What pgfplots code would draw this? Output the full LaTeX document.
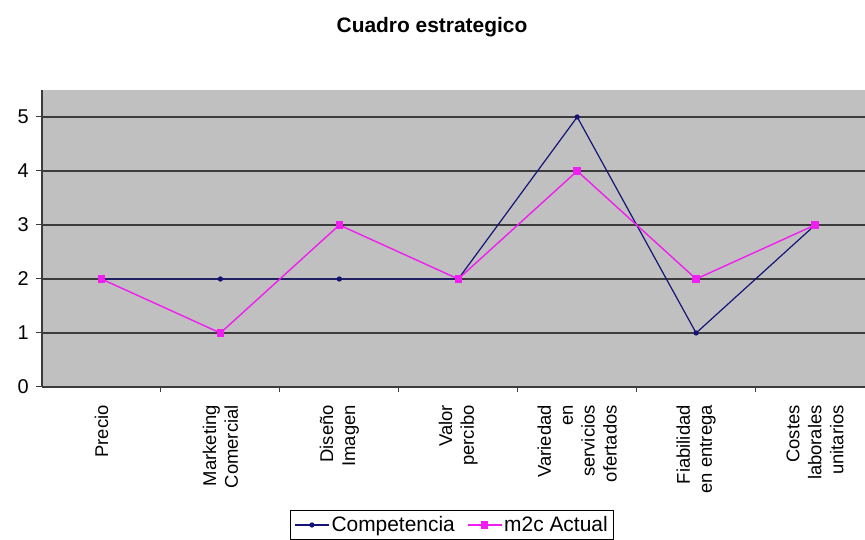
\documentclass[border=0pt]{standalone}
\usepackage{pgfplots}
\pgfplotsset{compat=1.18}
\usepackage{fontspec}
\setmainfont{Liberation Sans}
\definecolor{plotgray}{RGB}{192,192,192}
\definecolor{gridgray}{RGB}{60,60,60}
\definecolor{comp}{RGB}{20,20,120}
\definecolor{mtc}{RGB}{240,30,240}
\begin{document}
\begin{tikzpicture}
\useasboundingbox (0,0) rectangle (865bp,540bp);
\clip (0,0) rectangle (865bp,540bp);
\node[font=\fontsize{21}{24}\selectfont\bfseries] at (432bp,513bp) {Cuadro estrategico};
\begin{axis}[
  at={(42bp,153bp)}, anchor=south west,
  scale only axis, width=823bp, height=297bp,
  xmin=-0.5, xmax=6.42, ymin=0, ymax=5.5,
  axis background/.style={fill=plotgray},
  axis x line=bottom, axis y line=left,
  axis line style={-, draw=gridgray, line width=1.2bp},
  xtick={0,...,6},
  xticklabels={Precio, Marketing\\Comercial, Diseño\\Imagen, Valor\\percibo, Variedad\\en\\servicios\\ofertados, Fiabilidad\\en entrega, Costes\\laborales\\unitarios},
  minor xtick={0.5,1.5,2.5,3.5,4.5,5.5},
  ytick={0,...,5},
  ymajorgrids,
  major grid style={draw=gridgray, line width=1.8bp},
  tick style={draw=gridgray, line width=1bp},
  tick align=outside,
  major x tick style={draw=none},
  minor tick length=5bp,
  major tick length=6bp,
  /pgf/number format/assume math mode=true,
  yticklabel style={font=\fontsize{20}{22}\selectfont, inner sep=7bp},
  xticklabel style={rotate=90, anchor=east, align=right, font=\fontsize{18.5}{22}\selectfont, inner sep=0pt},
  xticklabel shift=12bp,
  legend columns=2,
  legend style={at={(0.4982,-0.4646)}, anchor=center, draw=black, fill=white,
    font=\fontsize{21}{23}\selectfont, /tikz/every even column/.append style={column sep=10bp},
    inner xsep=4bp, inner ysep=4bp},
  legend image code/.code={\draw[#1] (0bp,0bp) -- (34bp,0bp); \draw[#1, mark repeat=1] plot coordinates {(17bp,0bp)};},
]
\addplot[color=comp, line width=1.2bp, mark=*, mark size=2bp, mark options={fill=comp}] coordinates {
(0,2) (1,2) (2,2) (3,2) (4,5) (5,1) (6,3)};
\addlegendentry{Competencia}
\addplot[color=mtc, line width=1.4bp, mark=square*, mark size=3bp, mark options={fill=mtc}] coordinates {
(0,2) (1,1) (2,3) (3,2) (4,4) (5,2) (6,3)};
\addlegendentry{m2c Actual}
\end{axis}
\end{tikzpicture}
\end{document}
